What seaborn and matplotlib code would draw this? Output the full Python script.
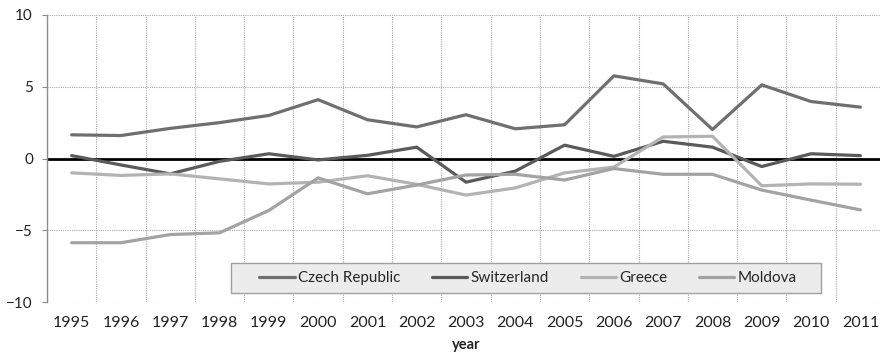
import numpy as np
import pandas as pd
import matplotlib.pyplot as plt
from matplotlib.patches import Rectangle
import seaborn as sns

# data
years = list(range(1995, 2012))
czech = [1.65, 1.6, 2.1, 2.5, 3.0, 4.1, 2.7, 2.2, 3.05, 2.07, 2.35, 5.76, 5.2, 2.02, 5.13, 3.97, 3.58]
switzerland = [0.2, -0.45, -1.07, -0.2, 0.33, -0.1, 0.22, 0.79, -1.65, -0.88, 0.93, 0.15, 1.2, 0.79, -0.56, 0.33, 0.2]
greece = [-1.0, -1.18, -1.07, -1.42, -1.77, -1.65, -1.2, -1.8, -2.55, -2.05, -1.0, -0.6, 1.5, 1.55, -1.9, -1.77, -1.79]
moldova = [-5.87, -5.87, -5.3, -5.18, -3.62, -1.35, -2.46, -1.85, -1.15, -1.1, -1.5, -0.7, -1.1, -1.1, -2.2, -2.9, -3.58]

countries = ["Czech Republic", "Switzerland", "Greece", "Moldova"]
colors = {"Czech Republic": "#6f6f6f", "Switzerland": "#5a5a5a",
          "Greece": "#b3b3b3", "Moldova": "#a3a3a3"}

df = pd.DataFrame({"Czech Republic": czech, "Switzerland": switzerland,
                   "Greece": greece, "Moldova": moldova}, index=years)
long = df.reset_index(names="year").melt(id_vars="year", var_name="country", value_name="value")

sns.set_style("white")
plt.rcParams['font.family'] = ['Lato', 'DejaVu Sans']

fig = plt.figure(figsize=(8.8, 3.55), dpi=100)
ax = fig.add_axes([47 / 880, 1 - 302 / 355, 838 / 880, 287 / 355])

ax.axhline(0, color="black", lw=2, zorder=1.5)
sns.lineplot(data=long, x="year", y="value", hue="country", hue_order=countries,
             palette=colors, lw=2.3, ax=ax, zorder=2)

ax.set_xlim(1994.5, 2011.5)
ax.set_ylim(-10, 10)
ax.set_yticks([-10, -5, 0, 5, 10])
ax.set_xticks(years)
ax.set_xticks(np.arange(1994.5, 2011.6, 1), minor=True)
ax.grid(False)
ax.grid(True, which="minor", axis="x", color="#ababab", ls=(0, (1, 1)), lw=0.8)
ax.grid(True, which="major", axis="y", color="#ababab", ls=(0, (1, 1)), lw=0.8)
ax.tick_params(axis="x", which="both", length=0, pad=10, labelsize=11.5, labelcolor="#222222")
ax.tick_params(axis="y", length=3.6, width=0.8, color="#8c8c8c", pad=6.5, labelsize=11,
               labelcolor="#222222", left=True)
for s in ["top", "right", "bottom"]:
    ax.spines[s].set_visible(False)
ax.spines["left"].set_color("#8c8c8c")
ax.spines["left"].set_linewidth(1)

ax.set_xlabel("year", fontsize=10.5, fontweight="bold", labelpad=6, color="#222222")
ax.set_ylabel("")

# legend box
box = Rectangle((0.2196, 0.0314), 0.704, 0.1045, transform=ax.transAxes,
                facecolor="#ececec", edgecolor="#a0a0a0", lw=1, zorder=4)
ax.add_patch(box)
handles, labels = ax.get_legend_handles_labels()
ax.legend(handles, labels, loc="center", bbox_to_anchor=(0.574, 0.0836), ncol=4,
          frameon=False, fontsize=11, handlelength=2.3, handletextpad=0.2,
          columnspacing=2.1, borderpad=0)

plt.savefig("out.png", dpi=100)
